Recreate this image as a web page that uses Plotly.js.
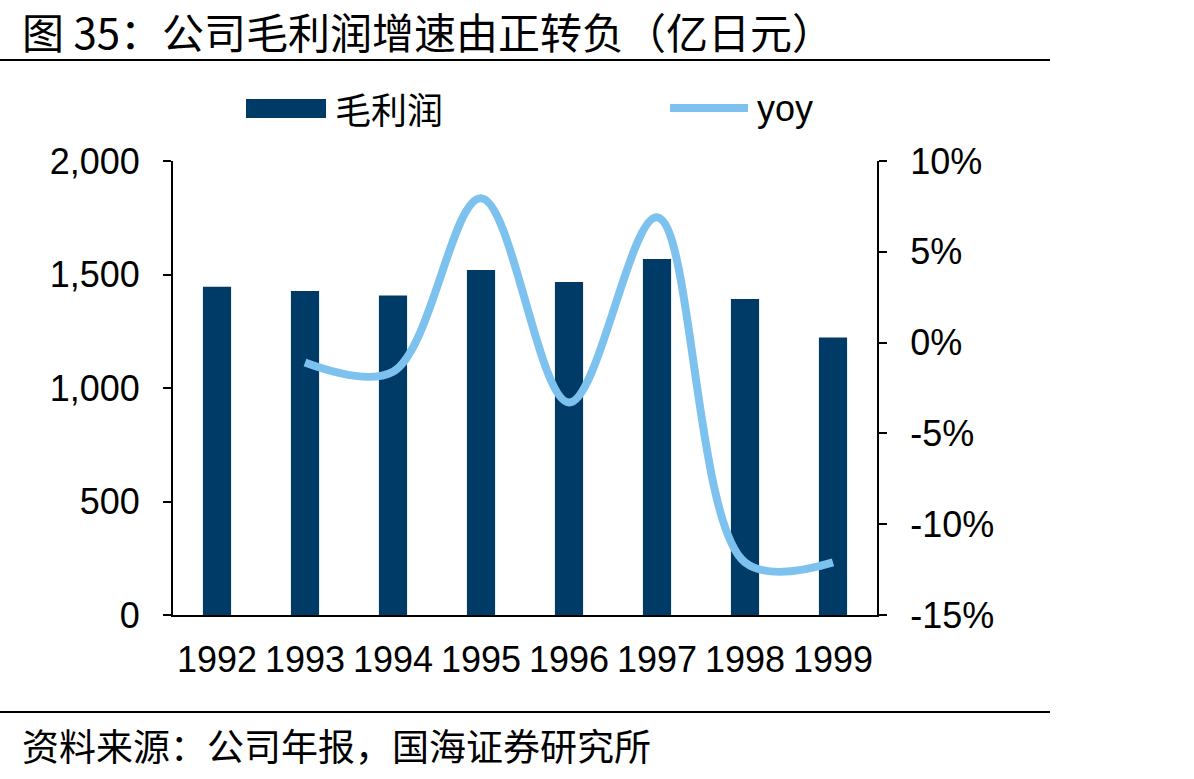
<!DOCTYPE html>
<html>
<head>
<meta charset="utf-8">
<script src="https://cdn.plot.ly/plotly-3.0.1.min.js"></script>
<style>html,body{margin:0;padding:0;background:#fff;}#chart{width:1194px;height:779px;}</style>
</head>
<body>
<div id="chart"></div>
<script>
const years = ['1992','1993','1994','1995','1996','1997','1998','1999'];
const grossProfit = [1446, 1427, 1408, 1520, 1467, 1568, 1392, 1223];
const yoyYears = ['1993','1994','1995','1996','1997','1998','1999'];
const yoy = [-1.1, -1.6, 7.95, -3.3, 6.9, -12.1, -12.1];
const leftTicks = [0, 500, 1000, 1500, 2000];
const rightTicks = [-15, -10, -5, 0, 5, 10];
const rightTickText = ['-15%', '-10%', '-5%', '0%', '5%', '10%'];

const barColor = '#003B67';
const lineColor = '#7DC1EE';
const numFont = 'Liberation Sans, Arial, sans-serif';
const cjkFont = 'Noto Sans CJK SC, sans-serif';

const L = 173, R = 877, T = 161, B = 615, W = 1194, H = 779;
const px = x => (x - L) / (R - L);
const py = y => (B - y) / (B - T);

const traces = [
  {type: 'bar', x: years, y: grossProfit, name: '毛利润', marker: {color: barColor}, yaxis: 'y', showlegend: false},
  {type: 'scatter', mode: 'lines', x: yoyYears, y: yoy, name: 'yoy', yaxis: 'y2',
   line: {color: lineColor, width: 8, shape: 'spline', smoothing: 1}, showlegend: false}
];

const layout = {
  width: W, height: H,
  margin: {l: L, r: W - R, t: T, b: H - B},
  paper_bgcolor: '#fff', plot_bgcolor: '#fff',
  bargap: 0.68,
  font: {family: numFont, color: '#000', size: 36},
  xaxis: {type: 'category', showline: true, linecolor: '#000', linewidth: 2, ticks: '',
          tickfont: {size: 36, family: numFont}, ticklabelstandoff: 12, showgrid: false, zeroline: false},
  yaxis: {range: [0, 2000], tickvals: leftTicks, tickformat: ',d', showline: true, linecolor: '#000', linewidth: 2,
          ticks: 'outside', ticklen: 8, tickwidth: 2, tickcolor: '#000', showgrid: false, zeroline: false,
          tickfont: {size: 36, family: numFont}, ticklabelstandoff: 16},
  yaxis2: {range: [-15, 10], tickmode: 'array', tickvals: rightTicks, ticktext: rightTickText, overlaying: 'y', side: 'right',
           showline: true, linecolor: '#000', linewidth: 2, ticks: 'outside', ticklen: 8, tickwidth: 2, tickcolor: '#000',
           showgrid: false, zeroline: false, tickfont: {size: 36, family: numFont}, ticklabelstandoff: 16},
  shapes: [
    {type: 'line', xref: 'paper', yref: 'paper', x0: px(0), x1: px(1050), y0: py(60), y1: py(60), line: {color: '#000', width: 2}},
    {type: 'line', xref: 'paper', yref: 'paper', x0: px(0), x1: px(1050), y0: py(712), y1: py(712), line: {color: '#000', width: 2}},
    {type: 'rect', xref: 'paper', yref: 'paper', x0: px(246), x1: px(326), y0: py(118), y1: py(99), fillcolor: barColor, line: {width: 0}},
    {type: 'line', xref: 'paper', yref: 'paper', x0: px(670), x1: px(748), y0: py(108), y1: py(108), line: {color: lineColor, width: 8}}
  ],
  annotations: [
    {xref: 'paper', yref: 'paper', x: px(20), y: py(30), xanchor: 'left', yanchor: 'middle', showarrow: false,
     text: '图 35：公司毛利润增速由正转负（亿日元）', font: {family: cjkFont, size: 42, color: '#000'}},
    {xref: 'paper', yref: 'paper', x: px(20), y: py(745), xanchor: 'left', yanchor: 'middle', showarrow: false,
     text: '资料来源：公司年报，国海证券研究所', font: {family: cjkFont, size: 37, color: '#000'}},
    {xref: 'paper', yref: 'paper', x: px(333), y: py(108), xanchor: 'left', yanchor: 'middle', showarrow: false,
     text: '毛利润', font: {family: cjkFont, size: 36, color: '#000'}},
    {xref: 'paper', yref: 'paper', x: px(755), y: py(108), xanchor: 'left', yanchor: 'middle', showarrow: false,
     text: 'yoy', font: {family: numFont, size: 36, color: '#000'}}
  ]
};

Plotly.newPlot('chart', traces, layout, {displayModeBar: false, staticPlot: true});
</script>
</body>
</html>
